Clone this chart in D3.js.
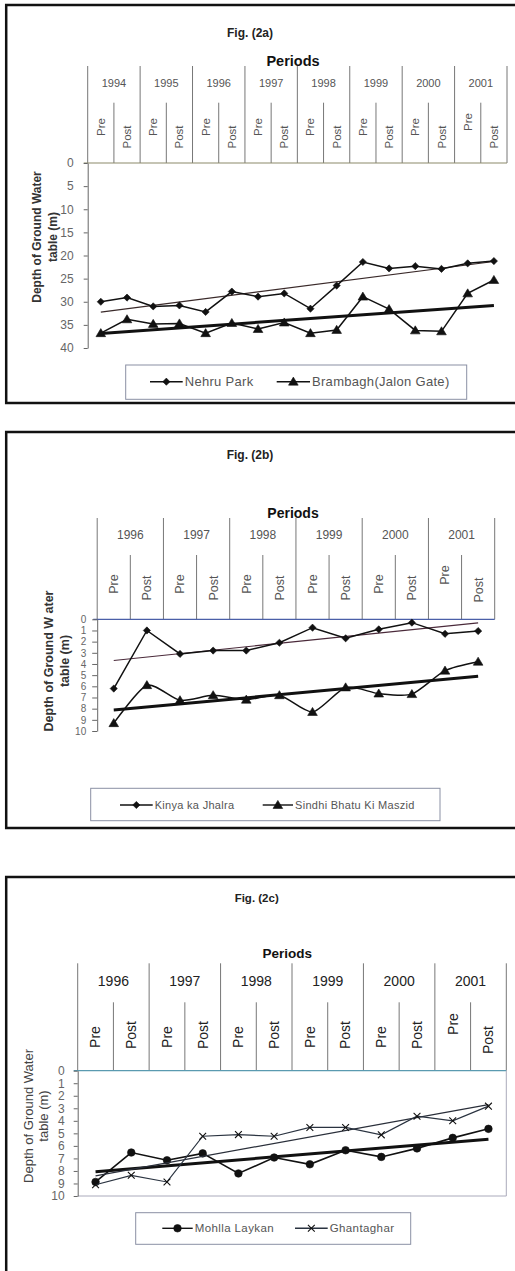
<!DOCTYPE html>
<html>
<head>
<meta charset="utf-8">
<script src="https://cdn.jsdelivr.net/npm/d3@7"></script>
<style>
  body { margin: 0; background: #fff; }
  svg { display: block; font-family: "Liberation Sans", Arial, sans-serif; }
</style>
</head>
<body>
<svg id="chart" width="515" height="1271"></svg>
<script>
// ---- data (depth in m, Pre / Post monsoon) ----
const seasons = ["Pre", "Post"];

// Fig. (2a)
const years2a = ["1994", "1995", "1996", "1997", "1998", "1999", "2000", "2001"];
const nehruPark = [30.0, 29.1, 31.0, 30.8, 32.2, 27.8, 28.9, 28.2, 31.5, 26.5, 21.4, 22.8, 22.3, 22.9, 21.7, 21.2];
const brambagh  = [36.8, 33.8, 34.8, 34.7, 36.8, 34.6, 35.9, 34.5, 36.8, 36.1, 28.9, 31.6, 36.2, 36.4, 28.2, 25.3];
const yTicks2a = [0, 5, 10, 15, 20, 25, 30, 35, 40];

// Fig. (2b)
const years2b = ["1996", "1997", "1998", "1999", "2000", "2001"];
const kinyaJhalra = [6.2, 1.0, 3.1, 2.8, 2.8, 2.1, 0.75, 1.7, 0.9, 0.3, 1.3, 1.05];
const sindhiBhatu = [9.3, 5.9, 7.25, 6.8, 7.2, 6.8, 8.3, 6.1, 6.65, 6.7, 4.6, 3.8];
const yTicks2b = [0, 1, 2, 3, 4, 5, 6, 7, 8, 9, 10];

// Fig. (2c)
const years2c = ["1996", "1997", "1998", "1999", "2000", "2001"];
const mohllaLaykan = [8.88, 6.53, 7.15, 6.6, 8.2, 6.93, 7.47, 6.35, 6.88, 6.2, 5.36, 4.64];
const ghantaghar   = [9.1, 8.35, 8.88, 5.23, 5.1, 5.23, 4.53, 4.53, 5.12, 3.63, 4.0, 2.83];
const yTicks2c = [0, 1, 2, 3, 4, 5, 6, 7, 8, 9, 10];

const svg = d3.select("#chart");

function periodsOf(years) {
  return years.flatMap(y => seasons.map(s => y + " " + s));
}

// linear trend line (least squares), value at first and last period
function trendEnds(vals) {
  const xs = d3.range(vals.length);
  const mx = d3.mean(xs), my = d3.mean(vals);
  const b = d3.sum(xs, i => (i - mx) * (vals[i] - my)) / d3.sum(xs, i => (i - mx) ** 2);
  return [my - b * mx, my + b * (vals.length - 1 - mx)];
}

function marker(kind, r) {
  if (kind === "diamond") return `M0,${-r}L${r},0L0,${r}L${-r},0Z`;
  if (kind === "triangle") return `M0,${-r}L${r * 1.05},${r * 0.75}L${-r * 1.05},${r * 0.75}Z`;
  if (kind === "circle") return d3.symbol(d3.symbolCircle, Math.PI * r * r)();
  return `M${-r},${-r}L${r},${r}M${-r},${r}L${r},${-r}`;
}

function drawMarker(g, kind, r, cx, cy) {
  g.append("path").attr("d", marker(kind, r))
    .attr("transform", `translate(${cx},${cy})`)
    .attr("fill", kind === "cross" ? "none" : "#111")
    .attr("stroke", "#111").attr("stroke-width", kind === "cross" ? 1.1 : 0.6);
}

function drawPanel(p) {
  const g = svg.append("g");

  // outer frame (runs off the right edge of the page)
  g.append("rect")
    .attr("x", 6.2).attr("y", p.frameTop).attr("width", 540).attr("height", p.frameH)
    .attr("fill", "none").attr("stroke", "#111").attr("stroke-width", 2.5);

  g.append("text")
    .attr("x", p.title[0]).attr("y", p.title[1]).attr("dy", "0.35em")
    .attr("text-anchor", "middle").attr("font-weight", "bold")
    .attr("font-size", p.titleSize).attr("fill", "#222").text(p.titleText);

  g.append("text")
    .attr("x", p.periodsPos[0]).attr("y", p.periodsPos[1]).attr("dy", "0.35em")
    .attr("text-anchor", "middle").attr("font-weight", "bold")
    .attr("font-size", p.periodsSize).attr("fill", "#111").text("Periods");

  const periods = periodsOf(p.years);
  const x = d3.scaleBand().domain(periods).range([p.x0, p.x1]);
  const xYear = d3.scaleBand().domain(p.years).range([p.x0, p.x1]);
  const y = d3.scaleLinear().domain([0, p.ticks[p.ticks.length - 1]]).range([p.y0, p.y1]);
  const cx = d => x(d) + x.bandwidth() / 2;

  // category header: years and Pre / Post
  const head = g.append("g").attr("stroke", "#777").attr("stroke-width", 1);
  p.years.concat([null]).forEach(yr => {
    const xx = yr === null ? p.x1 : xYear(yr);
    head.append("line").attr("x1", xx).attr("x2", xx).attr("y1", p.headTop).attr("y2", y(0));
  });
  p.years.forEach(yr => {
    const xx = x(yr + " Post");
    head.append("line").attr("x1", xx).attr("x2", xx).attr("y1", p.subTop).attr("y2", y(0));
  });

  g.selectAll(null).data(p.years).join("text")
    .attr("x", d => xYear(d) + xYear.bandwidth() / 2).attr("y", p.yearY).attr("dy", "0.35em")
    .attr("text-anchor", "middle").attr("font-size", p.yearSize).attr("fill", p.headColor)
    .text(d => d);

  g.selectAll(null).data(periods).join("text")
    .attr("transform", (d, i) => {
      const pre = d.endsWith("Pre");
      const last = i >= periods.length - 2;
      const cy = pre ? p.preY + (last ? p.lastPreShift : 0) : p.postY + (last ? p.lastPostShift : 0);
      return `translate(${cx(d)},${cy}) rotate(-90)`;
    })
    .attr("dy", "0.35em").attr("text-anchor", "middle")
    .attr("font-size", p.seasonSize).attr("fill", p.headColor)
    .text(d => d.split(" ")[1]);

  // zero line across the plot
  g.append("line")
    .attr("x1", p.x0 - 4).attr("x2", p.x1).attr("y1", y(0)).attr("y2", y(0))
    .attr("stroke", p.zeroColor).attr("stroke-width", 1.2);

  if (p.plotBox) {
    g.append("path")
      .attr("d", `M${p.x1},${y(0)}V${p.y1}H${p.x0}`)
      .attr("fill", "none").attr("stroke", "#aab").attr("stroke-width", 1);
  }

  // y axis
  const ax = g.append("g")
    .attr("transform", `translate(${p.x0},0)`)
    .call(d3.axisLeft(y).tickValues(p.ticks).tickSize(p.tickLen).tickSizeOuter(0).tickPadding(p.tickPad));
  ax.select(".domain").attr("stroke", "#666");
  ax.selectAll(".tick line").attr("stroke", "#666");
  ax.selectAll(".tick text").attr("fill", "#666").attr("font-size", p.tickSize)
    .attr("font-family", "Liberation Sans, Arial, sans-serif");

  // y axis title, two lines
  p.yTitle.forEach((t, i) => {
    g.append("text")
      .attr("transform", `translate(${p.yTitleX[i]},${p.yTitleY}) rotate(-90)`)
      .attr("dy", "0.35em").attr("text-anchor", "middle")
      .attr("font-size", p.yTitleSize).attr("font-weight", p.yTitleWeight)
      .attr("fill", p.yTitleColor).text(t);
  });

  // series with their linear trends
  p.series.forEach(s => {
    const [t0, t1] = trendEnds(s.values);
    g.append("line")
      .attr("x1", cx(periods[0])).attr("x2", cx(periods[periods.length - 1]))
      .attr("y1", y(t0)).attr("y2", y(t1))
      .attr("stroke", s.trendColor).attr("stroke-width", s.trendWidth);

    const line = d3.line()
      .x((v, i) => cx(periods[i])).y(v => y(v))
      .curve(s.smooth ? d3.curveCardinal.tension(0.3) : d3.curveLinear);
    g.append("path").datum(s.values).attr("d", line)
      .attr("fill", "none").attr("stroke", s.color).attr("stroke-width", s.width);

    s.values.forEach((v, i) => drawMarker(g, s.marker, s.r, cx(periods[i]), y(v)));
  });

  // legend
  const L = p.legend;
  g.append("rect")
    .attr("x", L.box[0]).attr("y", L.box[1]).attr("width", L.box[2]).attr("height", L.box[3])
    .attr("fill", "#fff").attr("stroke", "#8a90a4").attr("stroke-width", 1);
  p.series.forEach((s, i) => {
    const [a, b] = L.lines[i];
    g.append("line").attr("x1", a).attr("x2", b).attr("y1", L.y).attr("y2", L.y)
      .attr("stroke", s.color).attr("stroke-width", 1.4);
    drawMarker(g, s.marker, s.r, (a + b) / 2, L.y);
    g.append("text").attr("x", b + 2).attr("y", L.y).attr("dy", "0.35em")
      .attr("font-size", L.size).attr("letter-spacing", L.spacing).attr("fill", "#555")
      .text(s.name);
  });
}

drawPanel({
  titleText: "Fig. (2a)", title: [250, 33], titleSize: 12,
  frameTop: 5, frameH: 398,
  periodsPos: [293, 61], periodsSize: 14.5,
  years: years2a, x0: 87.7, x1: 507, y0: 163, y1: 348, ticks: yTicks2a,
  headTop: 66, subTop: 102.7, yearY: 82.7, yearSize: 11, headColor: "#555",
  preY: 127, postY: 137, lastPreShift: -5, lastPostShift: 0, seasonSize: 11.5,
  zeroColor: "#8c8a6a", plotBox: false,
  tickLen: 4, tickPad: 10, tickSize: 12,
  yTitle: ["Depth of Ground Water", "table (m)"], yTitleX: [37, 53], yTitleY: 237,
  yTitleSize: 12, yTitleWeight: "bold", yTitleColor: "#333",
  series: [
    { name: "Nehru Park", values: nehruPark, marker: "diamond", r: 3.6, color: "#111", width: 1.5,
      trendColor: "#3a2a2a", trendWidth: 1.2 },
    { name: "Brambagh(Jalon Gate)", values: brambagh, marker: "triangle", r: 4.6, color: "#111", width: 1.5,
      trendColor: "#111", trendWidth: 3 }
  ],
  legend: { box: [125.7, 365, 341, 34.3], y: 381.7, size: 13, spacing: 0.3,
            lines: [[150, 182.7], [276.7, 310]] }
});

drawPanel({
  titleText: "Fig. (2b)", title: [250, 455], titleSize: 12,
  frameTop: 432, frameH: 396,
  periodsPos: [293, 512.7], periodsSize: 14,
  years: years2b, x0: 97.2, x1: 494.7, y0: 619.3, y1: 731, ticks: yTicks2b,
  headTop: 518, subTop: 555, yearY: 535, yearSize: 12, headColor: "#555",
  preY: 584, postY: 588, lastPreShift: -9, lastPostShift: 2, seasonSize: 12.5,
  zeroColor: "#4a5fa8", plotBox: false,
  tickLen: 5, tickPad: 6, tickSize: 10,
  yTitle: ["Depth of Ground W ater", "table (m)"], yTitleX: [49, 65], yTitleY: 661,
  yTitleSize: 12.5, yTitleWeight: "bold", yTitleColor: "#333",
  series: [
    { name: "Kinya ka Jhalra", values: kinyaJhalra, marker: "diamond", r: 3.6, color: "#111", width: 1.5,
      trendColor: "#4a2a3a", trendWidth: 1.2 },
    { name: "Sindhi Bhatu Ki Maszid", values: sindhiBhatu, marker: "triangle", r: 4.6, color: "#111", width: 1.5,
      trendColor: "#111", trendWidth: 3, smooth: true }
  ],
  legend: { box: [90.7, 788.3, 349.3, 32.4], y: 805, size: 11, spacing: 0.3,
            lines: [[120, 152.7], [262.7, 293]] }
});

drawPanel({
  titleText: "Fig. (2c)", title: [256.7, 898.3], titleSize: 11.5,
  frameTop: 877, frameH: 420,
  periodsPos: [287.3, 953.3], periodsSize: 13.5,
  years: years2c, x0: 77.7, x1: 506.3, y0: 1070.7, y1: 1196, ticks: yTicks2c,
  headTop: 963.3, subTop: 1002.3, yearY: 980.7, yearSize: 14, headColor: "#222",
  preY: 1037, postY: 1035, lastPreShift: -13, lastPostShift: 5, seasonSize: 14,
  zeroColor: "#5a9ab0", plotBox: true,
  tickLen: 4, tickPad: 9, tickSize: 12,
  yTitle: ["Depth of Ground Water", "table (m)"], yTitleX: [28, 43], yTitleY: 1116,
  yTitleSize: 13, yTitleWeight: "normal", yTitleColor: "#444",
  series: [
    { name: "Mohlla Laykan", values: mohllaLaykan, marker: "circle", r: 3.8, color: "#111", width: 1.6,
      trendColor: "#111", trendWidth: 3 },
    { name: "Ghantaghar", values: ghantaghar, marker: "cross", r: 3.4, color: "#2a3340", width: 1.2,
      trendColor: "#2a2f3a", trendWidth: 1.3 }
  ],
  legend: { box: [135.7, 1212.7, 275, 31.6], y: 1228.3, size: 11.5, spacing: 0.4,
            lines: [[162.3, 192.7], [295, 327.7]] }
});
</script>
</body>
</html>
